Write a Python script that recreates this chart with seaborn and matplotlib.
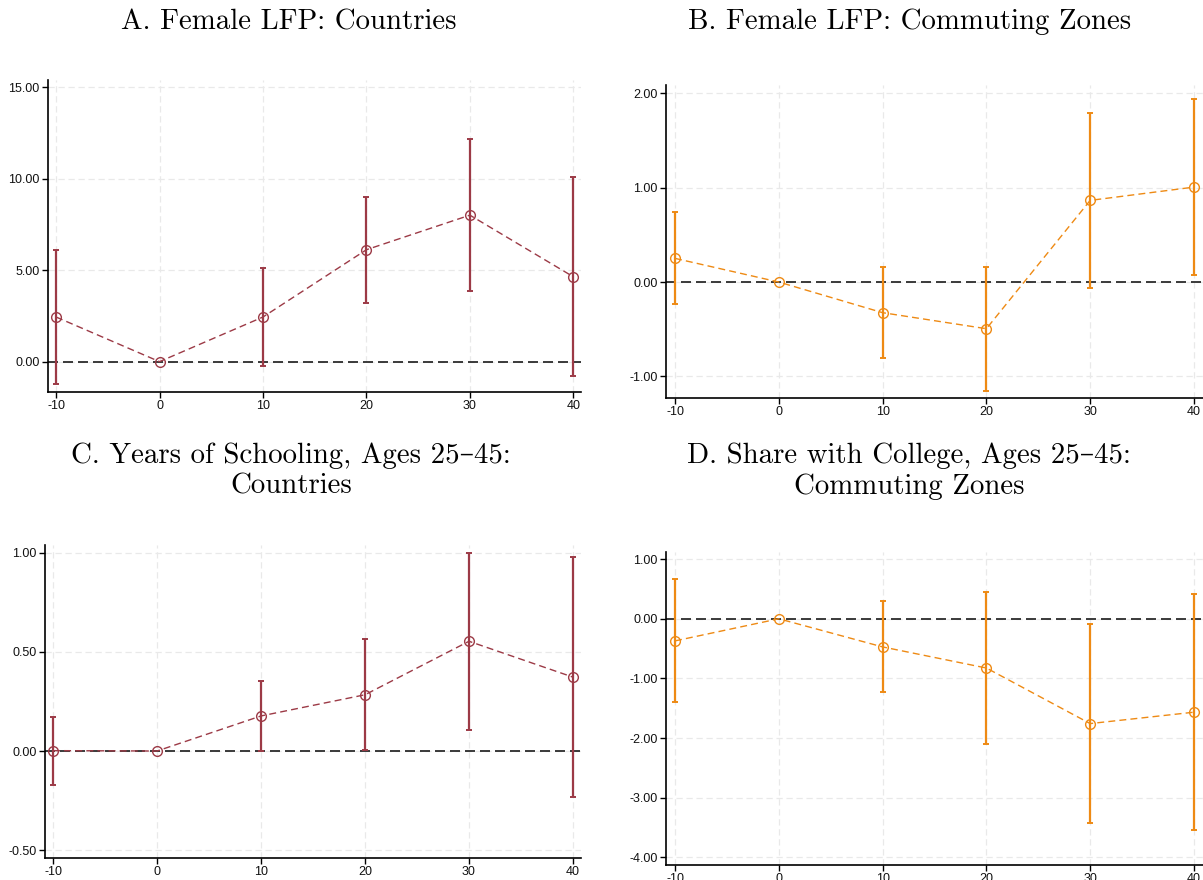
import numpy as np
import pandas as pd
import matplotlib
matplotlib.use("Agg")
import matplotlib.pyplot as plt
from matplotlib.ticker import FormatStrFormatter, FixedLocator
import seaborn as sns

# ---------------- data ----------------
decades = [-10, 0, 10, 20, 30, 40]

a_coef = [2.44, 0.0, 2.44, 6.12, 8.01, 4.64]
a_lo = [-1.24, np.nan, -0.22, 3.22, 3.86, -0.80]
a_hi = [6.10, np.nan, 5.10, 9.02, 12.19, 10.11]

b_coef = [0.251, 0.0, -0.325, -0.495, 0.866, 1.007]
b_lo = [-0.233, np.nan, -0.809, -1.152, -0.067, 0.078]
b_hi = [0.739, np.nan, 0.163, 0.155, 1.795, 1.940]

c_coef = [0.002, 0.0, 0.177, 0.284, 0.554, 0.373]
c_lo = [-0.171, np.nan, 0.002, 0.005, 0.106, -0.231]
c_hi = [0.171, np.nan, 0.353, 0.564, 0.998, 0.978]

d_coef = [-0.371, 0.0, -0.472, -0.826, -1.758, -1.567]
d_lo = [-1.404, np.nan, -1.236, -2.101, -3.427, -3.545]
d_hi = [0.669, np.nan, 0.292, 0.449, -0.096, 0.421]

titles = [
    "A. Female LFP: Countries",
    "B. Female LFP: Commuting Zones",
    "C. Years of Schooling, Ages 25\u201345:\nCountries",
    "D. Share with College, Ages 25\u201345:\nCommuting Zones",
]
y_ticks = [
    [0, 5, 10, 15],
    [-1, 0, 1, 2],
    [-0.5, 0, 0.5, 1.0],
    [-4, -3, -2, -1, 0, 1],
]

# ---------------- style ----------------
sns.set_theme(style="white")
plt.rcParams["font.family"] = ["Liberation Sans", "DejaVu Sans"]
plt.rcParams["axes.unicode_minus"] = False

MAROON = "#9c3a46"
ORANGE = "#ee8a14"

W, H = 1203, 880
fig = plt.figure(figsize=(W / 100, H / 100), dpi=100)


def px_axes(left, top, right, bottom):
    return fig.add_axes([left / W, 1 - bottom / H, (right - left) / W, (bottom - top) / H])


panels = [
    dict(box=(48, 80, 581, 392), xlim=(-10.78, 40.74), ylim=(-1.66, 15.4),
         coef=a_coef, lo=a_lo, hi=a_hi, color=MAROON),
    dict(box=(666, 85, 1206, 398), xlim=(-10.87, 41.16), ylim=(-1.23, 2.09),
         coef=b_coef, lo=b_lo, hi=b_hi, color=ORANGE),
    dict(box=(45, 545, 581, 858), xlim=(-10.77, 40.77), ylim=(-0.54, 1.04),
         coef=c_coef, lo=c_lo, hi=c_hi, color=MAROON),
    dict(box=(666, 552, 1206, 865), xlim=(-10.87, 41.16), ylim=(-4.13, 1.12),
         coef=d_coef, lo=d_lo, hi=d_hi, color=ORANGE),
]

for i, p in enumerate(panels):
    ax = px_axes(*p["box"])
    df = pd.DataFrame({"decade": decades, "coef": p["coef"], "lo": p["lo"], "hi": p["hi"]})
    c = p["color"]

    ax.set_xlim(*p["xlim"])
    ax.set_ylim(*p["ylim"])
    ax.xaxis.set_major_locator(FixedLocator(decades))
    ax.yaxis.set_major_locator(FixedLocator(y_ticks[i]))
    ax.yaxis.set_major_formatter(FormatStrFormatter("%.2f"))

    ax.grid(True, color="#e9e9e9", linewidth=0.9, linestyle=(0, (5, 3)))
    ax.set_axisbelow(True)

    ax.axhline(0, color="#1a1a1a", linewidth=1.2, linestyle=(0, (6, 3)), zorder=2)

    eb = df.dropna()
    ax.errorbar(eb["decade"], eb["coef"],
                yerr=[eb["coef"] - eb["lo"], eb["hi"] - eb["coef"]],
                fmt="none", ecolor=c, elinewidth=1.6, capsize=2.5, capthick=1.4, zorder=3)

    sns.lineplot(data=df, x="decade", y="coef", ax=ax, color=c, linewidth=1.0,
                 linestyle=(0, (5, 3)), marker="o", markersize=7,
                 markerfacecolor="none", markeredgecolor=c, markeredgewidth=1.0,
                 zorder=4)

    ax.set_xlabel("")
    ax.set_ylabel("")
    for s in ["top", "right"]:
        ax.spines[s].set_visible(False)
    for s in ["left", "bottom"]:
        ax.spines[s].set_color("black")
        ax.spines[s].set_linewidth(1.2)
    ax.tick_params(axis="both", which="major", direction="out", length=4, width=1,
                   color="black", labelsize=9, labelcolor="#111111", pad=2,
                   left=True, bottom=True)

# titles
title_font = dict(family=["cmr10", "DejaVu Serif"], fontsize=20.8, color="black",
                  ha="center", va="center", linespacing=1.2)
fig.text(289 / W, 1 - 22 / H, titles[0], **title_font)
fig.text(910 / W, 1 - 22 / H, titles[1], **title_font)
fig.text(291 / W, 1 - 471 / H, titles[2], **title_font)
fig.text(909 / W, 1 - 471 / H, titles[3], **title_font)

fig.savefig("out.png", dpi=100)
